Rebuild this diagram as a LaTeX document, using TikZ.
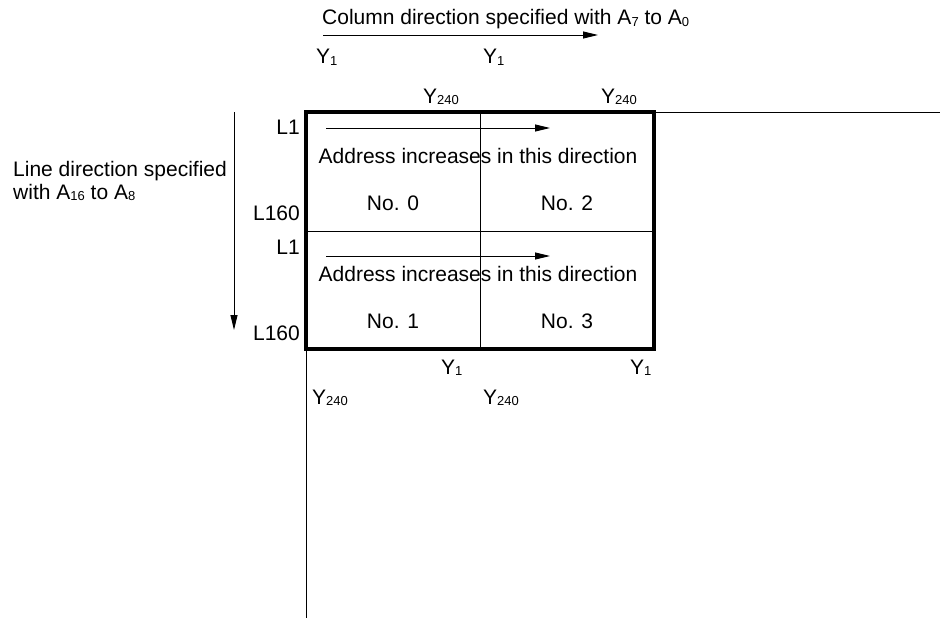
\documentclass[tikz,border=0pt]{standalone}
\usepackage{fontspec}
\setmainfont{Liberation Sans}
\usetikzlibrary{arrows.meta,positioning}
\tikzstyle{lbl} = [inner sep=0pt, font=\fontsize{21}{21}\selectfont]
\tikzstyle{boxline} = [line width=3.2pt]
\tikzstyle{gridline} = [line width=0.9pt]
\tikzstyle{dirarrow} = [line width=0.9pt, -{Stealth[length=15pt,width=7pt,inset=0pt]}]
\newcommand{\lowsub}[1]{\raisebox{-1.5pt}{\fontsize{13}{13}\selectfont #1}}

\begin{document}
\begin{tikzpicture}[x=1pt,y=-1pt]
            \useasboundingbox (0,0) rectangle (940,618);
            % frame of the four areas
            \coordinate (tl) at (306,112);
            \coordinate (tm) at (480,112);
            \coordinate (tr) at (654,112);
            \coordinate (ml) at (306,231);
            \coordinate (mr) at (654,231);
            \coordinate (bl) at (306,349);
            \coordinate (bm) at (480,349);
            \coordinate (br) at (654,349);
            \coordinate (edgeright) at (940,112);
            \coordinate (edgebottom) at (306,618);

            \draw[gridline] (tm) -- (bm);
            \draw[gridline] (ml) -- (mr);
            \draw[gridline] (tr) -- (edgeright);
            \draw[gridline] (bl) -- (edgebottom);
            \draw[boxline] (tl) rectangle (br);

            % column direction
            \node[lbl, anchor=base west] (coltext) at (322,25) {Column direction specified with A\lowsub{7} to A\lowsub{0}};
            \coordinate (colstart) at (323,35);
            \coordinate (colend) at (598,35);
            \draw[dirarrow] (colstart) -- (colend);

            \node[lbl, anchor=base west] (ytopa) at (316,64) {Y\lowsub{1}};
            \node[lbl, anchor=base west] (ytopb) at (483,64) {Y\lowsub{1}};
            \node[lbl, anchor=base west] (ytopc) at (423,103) {Y\lowsub{240}};
            \node[lbl, anchor=base west] (ytopd) at (601,103) {Y\lowsub{240}};

            % line direction
            \node[lbl, anchor=base west] (linetext) at (13,176) {Line direction specified};
            \node[lbl, anchor=base west] (withtext) at (13,199) {with A\lowsub{16} to A\lowsub{8}};
            \coordinate (linestart) at (234,112);
            \coordinate (lineend) at (234,330);
            \draw[dirarrow] (linestart) -- (lineend);

            \node[lbl, anchor=base east] (lfirsta) at (300,134) {L1};
            \node[lbl, anchor=base east] (llasta) at (300,220) {L160};
            \node[lbl, anchor=base east] (lfirstb) at (300,254) {L1};
            \node[lbl, anchor=base east] (llastb) at (300,340) {L160};

            % upper areas
            \coordinate (addrstarta) at (326,128);
            \coordinate (addrenda) at (550,128);
            \draw[dirarrow] (addrstarta) -- (addrenda);
            \node[lbl, anchor=base] (addra) at (478,163) {Address increases in this direction};
            \node[lbl, anchor=base] (areazero) at (393,210) {No. 0};
            \node[lbl, anchor=base] (areatwo) at (567,210) {No. 2};

            % lower areas
            \coordinate (addrstartb) at (326,256);
            \coordinate (addrendb) at (550,256);
            \draw[dirarrow] (addrstartb) -- (addrendb);
            \node[lbl, anchor=base] (addrb) at (478,281) {Address increases in this direction};
            \node[lbl, anchor=base] (areaone) at (393,328) {No. 1};
            \node[lbl, anchor=base] (areathree) at (567,328) {No. 3};

            \node[lbl, anchor=base west] (ybota) at (441,374) {Y\lowsub{1}};
            \node[lbl, anchor=base west] (ybotb) at (630,374) {Y\lowsub{1}};
            \node[lbl, anchor=base west] (ybotc) at (312,404) {Y\lowsub{240}};
            \node[lbl, anchor=base west] (ybotd) at (483,404) {Y\lowsub{240}};
        \end{tikzpicture}
\end{document}
